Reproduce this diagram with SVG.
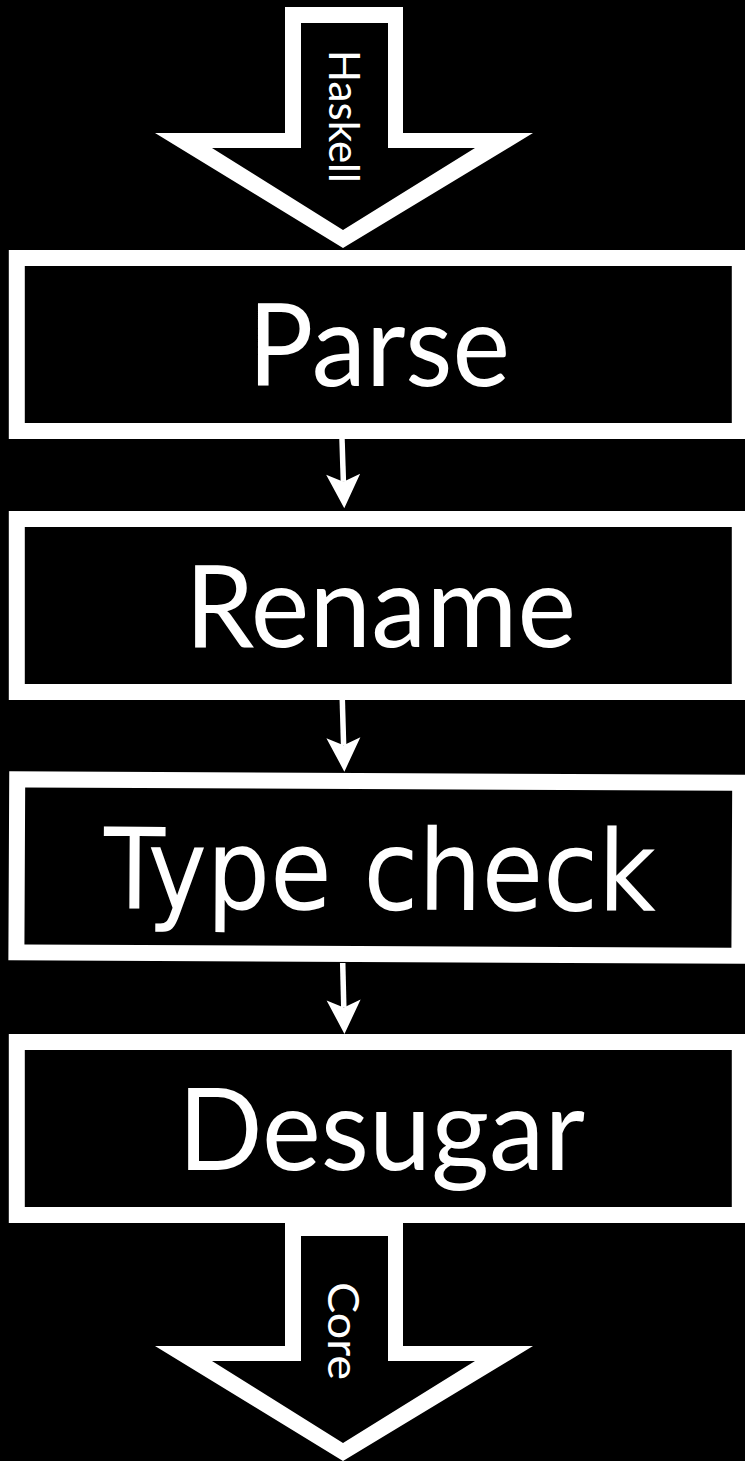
<svg xmlns="http://www.w3.org/2000/svg" width="745" height="1461" viewBox="0 0 745 1461">
  <style>
    .box { fill: #000; stroke: #fff; stroke-width: 16; }
    .big { font-family: Lato, "Liberation Sans", sans-serif; font-size: 114px; fill: #fff; }
    .tc { font-family: "DejaVu Sans", sans-serif; font-stretch: condensed; font-size: 112px; fill: #fff; }
    .small { font-family: Lato, "Liberation Sans", sans-serif; font-size: 43px; fill: #fff; }
    .outer { fill: #fff; }
    .inner { fill: #000; }
    .conn { stroke: #fff; stroke-width: 5.5; fill: none; }
  </style>
  <defs>
    <marker id="head" viewBox="-35 -18 36 36" refX="-26.5" refY="0" markerWidth="36" markerHeight="36" markerUnits="userSpaceOnUse" orient="auto">
      <path d="M0,0 L-34,-17 L-26.5,0 L-34,17 Z" fill="#fff"/>
    </marker>
  </defs>
  <rect x="0" y="0" width="745" height="1461" fill="#000"/>

  <g id="haskell-arrow">
    <polygon class="outer" points="285,7 403,7 403,133 533,133 343,248 155,133 285,133"/>
    <polygon class="inner" points="301,23 388,23 388,148 475,148 343,230 212,148 301,148"/>
    <text class="small" transform="translate(329,50) rotate(90)" x="0" y="0" textLength="133" lengthAdjust="spacingAndGlyphs">Haskell</text>
  </g>

  <g id="parse">
    <rect class="box" x="16.8" y="258" width="723" height="173"/>
    <text class="big" x="248" y="386" textLength="262" lengthAdjust="spacingAndGlyphs">Parse</text>
  </g>

  <g id="rename">
    <rect class="box" x="16.8" y="519" width="723" height="173"/>
    <text class="big" x="185" y="646.7" textLength="391" lengthAdjust="spacingAndGlyphs">Rename</text>
  </g>

  <g id="typecheck" transform="rotate(0.27 378 867.6)">
    <rect class="box" x="16.8" y="781.1" width="723" height="173"/>
    <text class="tc" x="104" y="909.5" textLength="552" lengthAdjust="spacingAndGlyphs">Type check</text>
  </g>

  <g id="desugar">
    <rect class="box" x="16.8" y="1042" width="723" height="173"/>
    <text class="big" x="178" y="1170" textLength="407" lengthAdjust="spacingAndGlyphs">Desugar</text>
  </g>

  <g id="core-arrow">
    <polygon class="outer" points="285,1220 403,1220 403,1346 533,1346 343,1461 155,1346 285,1346"/>
    <polygon class="inner" points="301,1236 388,1236 388,1361 475,1361 343,1443 212,1361 301,1361"/>
    <text class="small" transform="translate(328,1282) rotate(90)" x="0" y="0" textLength="98" lengthAdjust="spacingAndGlyphs">Core</text>
  </g>

  <g id="connectors">
    <line class="conn" x1="342" y1="439" x2="343.4" y2="481.8" marker-end="url(#head)"/>
    <line class="conn" x1="342.3" y1="700" x2="343.6" y2="745.2" marker-end="url(#head)"/>
    <line class="conn" x1="342.7" y1="963" x2="343.8" y2="1007.5" marker-end="url(#head)"/>
  </g>
</svg>
